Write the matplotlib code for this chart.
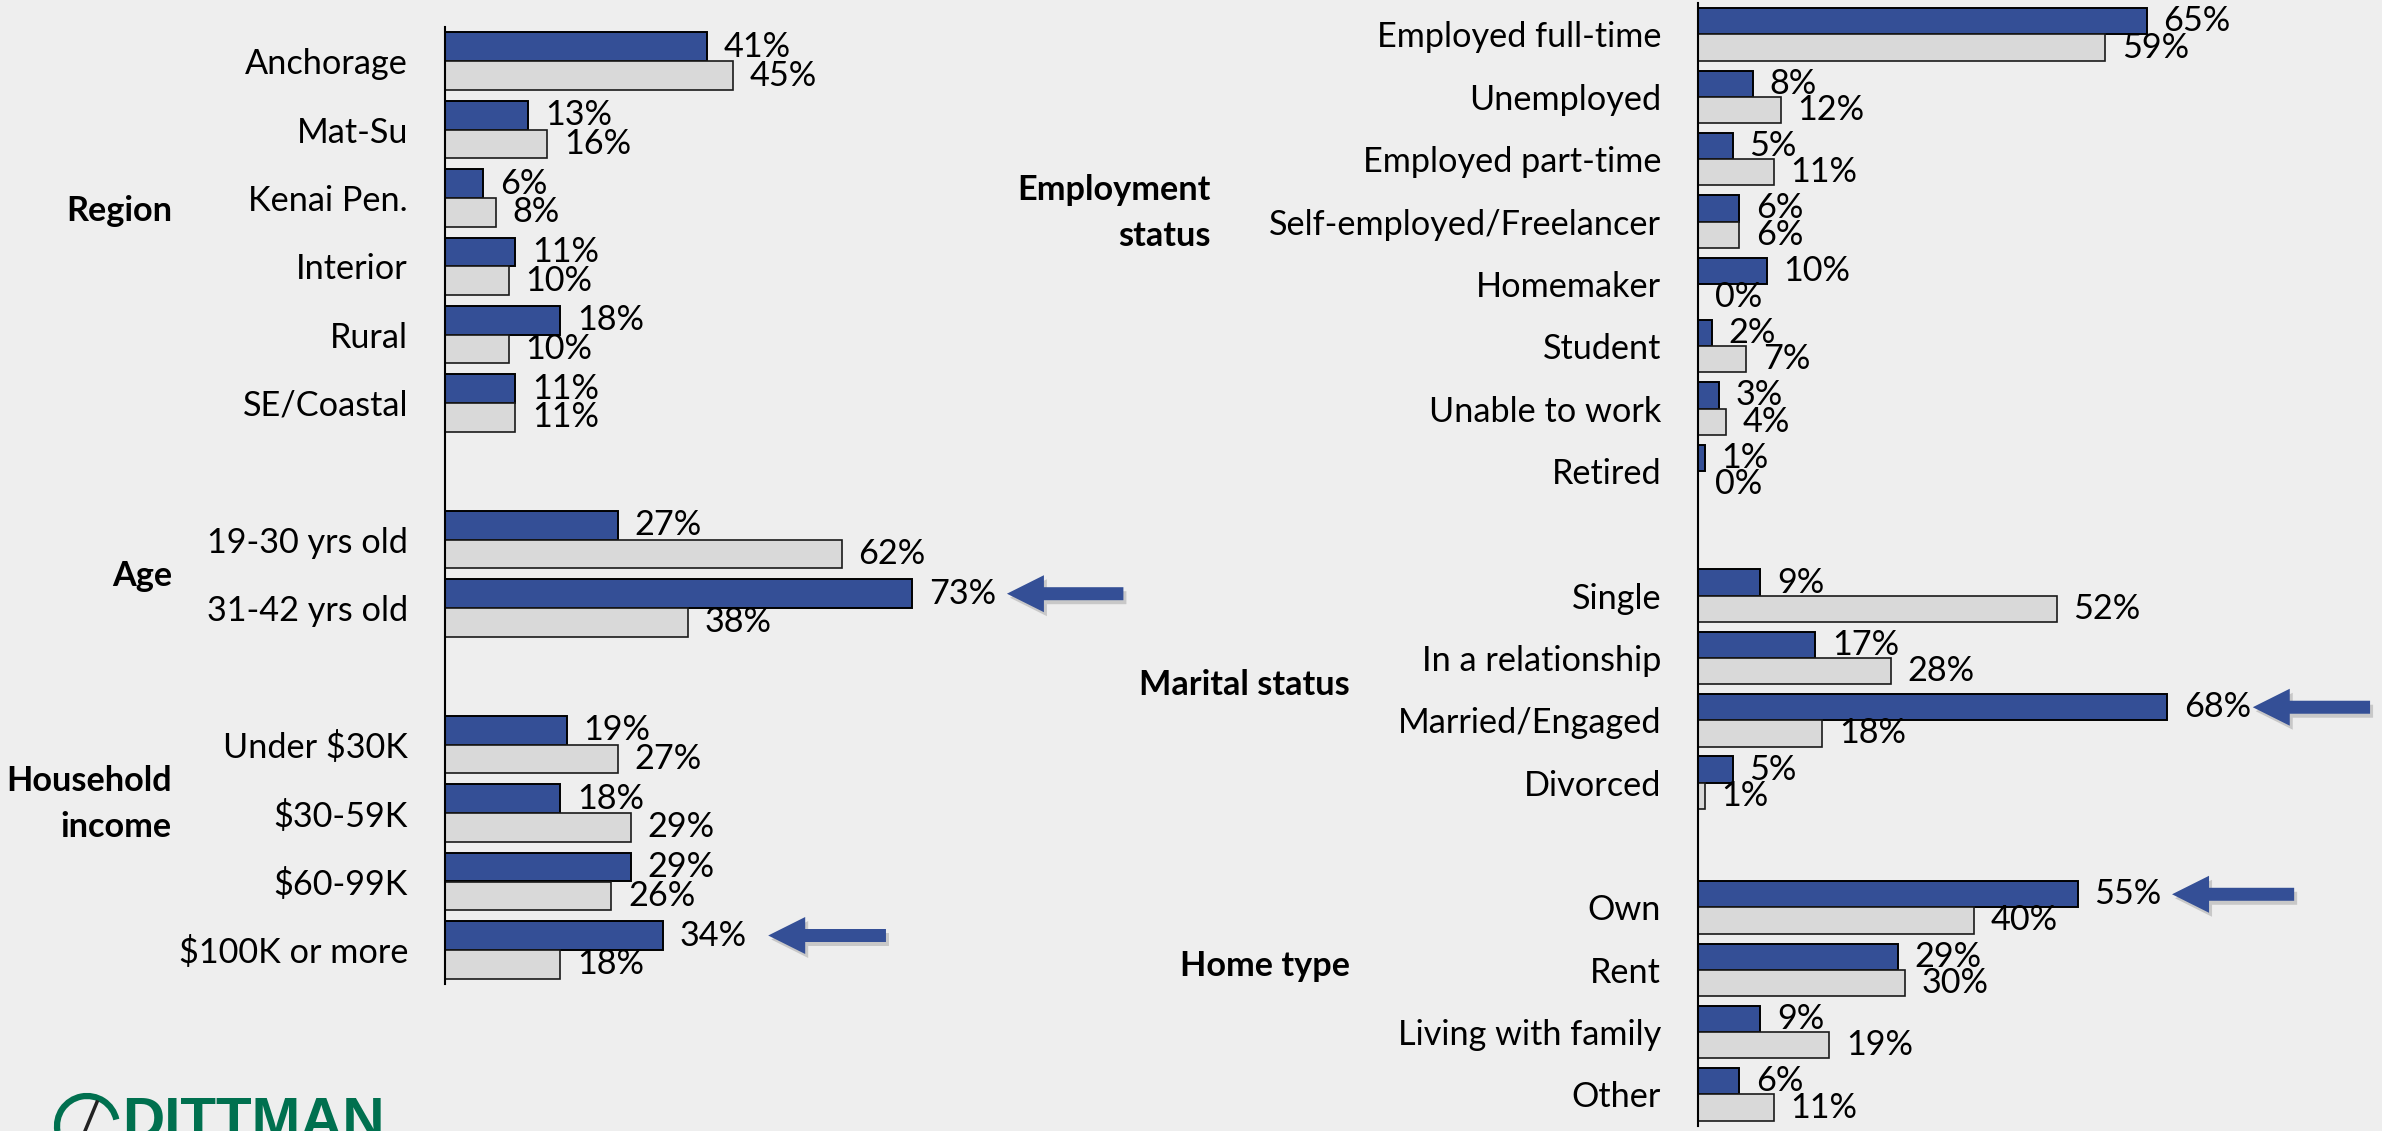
import matplotlib
matplotlib.use("Agg")
import matplotlib.pyplot as plt
from matplotlib.patches import FancyArrow, Arc

plt.rcParams['font.family'] = ['Lato', 'DejaVu Sans']

# left panel data
region_labels = ["Anchorage", "Mat-Su", "Kenai Pen.", "Interior", "Rural", "SE/Coastal"]
region_blue = [41, 13, 6, 11, 18, 11]
region_gray = [45, 16, 8, 10, 10, 11]

age_labels = ["19-30 yrs old", "31-42 yrs old"]
age_blue = [27, 73]
age_gray = [62, 38]

income_labels = ["Under $30K", "$30-59K", "$60-99K", "$100K or more"]
income_blue = [19, 18, 29, 34]
income_gray = [27, 29, 26, 18]

# right panel data
employ_labels = ["Employed full-time", "Unemployed", "Employed part-time",
                 "Self-employed/Freelancer", "Homemaker", "Student",
                 "Unable to work", "Retired"]
employ_blue = [65, 8, 5, 6, 10, 2, 3, 1]
employ_gray = [59, 12, 11, 6, 0, 7, 4, 0]

marital_labels = ["Single", "In a relationship", "Married/Engaged", "Divorced"]
marital_blue = [9, 17, 68, 5]
marital_gray = [52, 28, 18, 1]

home_labels = ["Own", "Rent", "Living with family", "Other"]
home_blue = [55, 29, 9, 6]
home_gray = [40, 30, 19, 11]

BLUE = '#344F96'
GRAY = '#D9D9D9'
BG = '#EEEEEE'
FS = 24.7

W, H = 2382, 1131
fig = plt.figure(figsize=(W / 100, H / 100), dpi=100)
fig.patch.set_facecolor(BG)


def px_axes(x0, y_top, w, h):
    # axes from pixel box (top-left origin)
    return fig.add_axes([x0 / W, 1 - (y_top + h) / H, w / W, h / H])


def draw_panel(ax, groups, xmax):
    ax.set_facecolor('none')
    pos, labels = [], []
    i = 0
    for g_labels, blue, gray in groups:
        for lab, b, g in zip(g_labels, blue, gray):
            ax.barh(i - 0.21, b, height=0.42, color=BLUE, edgecolor='black', linewidth=1.4)
            ax.barh(i + 0.21, g, height=0.42, color=GRAY, edgecolor='#1a1a1a', linewidth=1.2)
            ax.annotate(f"{b}%", (b, i - 0.21), xytext=(12, 0), textcoords='offset points',
                        va='center', ha='left', fontsize=FS)
            ax.annotate(f"{g}%", (g, i + 0.21), xytext=(12, 0), textcoords='offset points',
                        va='center', ha='left', fontsize=FS)
            pos.append(i)
            labels.append(lab)
            i += 1
        i += 1  # empty slot between groups
    n = i - 1
    ax.set_ylim(n - 0.5, -0.5)
    ax.set_xlim(0, xmax)
    ax.set_yticks(pos)
    ax.set_yticklabels(labels, fontsize=FS)
    ax.tick_params(axis='y', length=0, pad=26.6)
    ax.set_xticks([])
    for s in ['top', 'right', 'bottom']:
        ax.spines[s].set_visible(False)
    ax.spines['left'].set_linewidth(1.5)
    return pos


def arrow(ax, tip, tail, y, sx, sy):
    # shadow first, then arrow pointing left
    kw = dict(width=13 / sy, head_width=37 / sy, head_length=37 / sx,
              length_includes_head=True, clip_on=False, linewidth=0)
    ax.add_patch(FancyArrow(tail + 3 / sx, y + 4 / sy, tip - tail, 0,
                            color='#9A9A9A', alpha=0.45, **kw))
    ax.add_patch(FancyArrow(tail, y, tip - tail, 0, color=BLUE, **kw))


# left panel: 14 slots, 6.4 px per percent
axL = px_axes(445, 27, 110 * 6.4, 14 * 68.36)
posL = draw_panel(axL, [(region_labels, region_blue, region_gray),
                        (age_labels, age_blue, age_gray),
                        (income_labels, income_blue, income_gray)], 110)
arrow(axL, 87.8, 106.0, posL[7] - 0.21, 6.4, 68.36)
arrow(axL, 50.5, 68.9, posL[11] - 0.21, 6.4, 68.36)

# right panel: 18 slots, 6.9 px per percent
axR = px_axes(1698, 3.3, 99 * 6.9, 18 * 62.35)
posR = draw_panel(axR, [(employ_labels, employ_blue, employ_gray),
                        (marital_labels, marital_blue, marital_gray),
                        (home_labels, home_blue, home_gray)], 99)
arrow(axR, 80.4, 97.4, posR[10] - 0.21, 6.9, 62.35)
arrow(axR, 68.7, 86.4, posR[12] - 0.21, 6.9, 62.35)

# group labels (pixel positions, right aligned)
group_txt = [("Region", 172, 211), ("Age", 172, 576), ("Household\nincome", 172, 804),
             ("Employment\nstatus", 1211, 213), ("Marital status", 1350, 685),
             ("Home type", 1350, 966)]
for t, x, y in group_txt:
    fig.text(x / W, 1 - y / H, t, ha='right', va='center', multialignment='right',
             fontsize=FS, fontweight='bold', linespacing=1.55)

# logo, cut off at the bottom edge
GREEN = '#00704F'
fig.text(122 / W, 1 - 1138 / H, "DITTMAN", fontsize=42, fontweight='bold',
         color=GREEN, family='Liberation Sans', ha='left', va='baseline')
fig.patches.append(Arc((87 / W, 1 - 1126 / H), 60 / W, 60 / H, theta1=25, theta2=200,
                       transform=fig.transFigure, color=GREEN, linewidth=4.5))
fig.lines.append(plt.Line2D([85 / W, 97 / W], [1 - 1131 / H, 1 - 1102 / H],
                            transform=fig.transFigure, color='#222222', linewidth=2.5))

fig.savefig("out.png", dpi=100, facecolor=BG)
